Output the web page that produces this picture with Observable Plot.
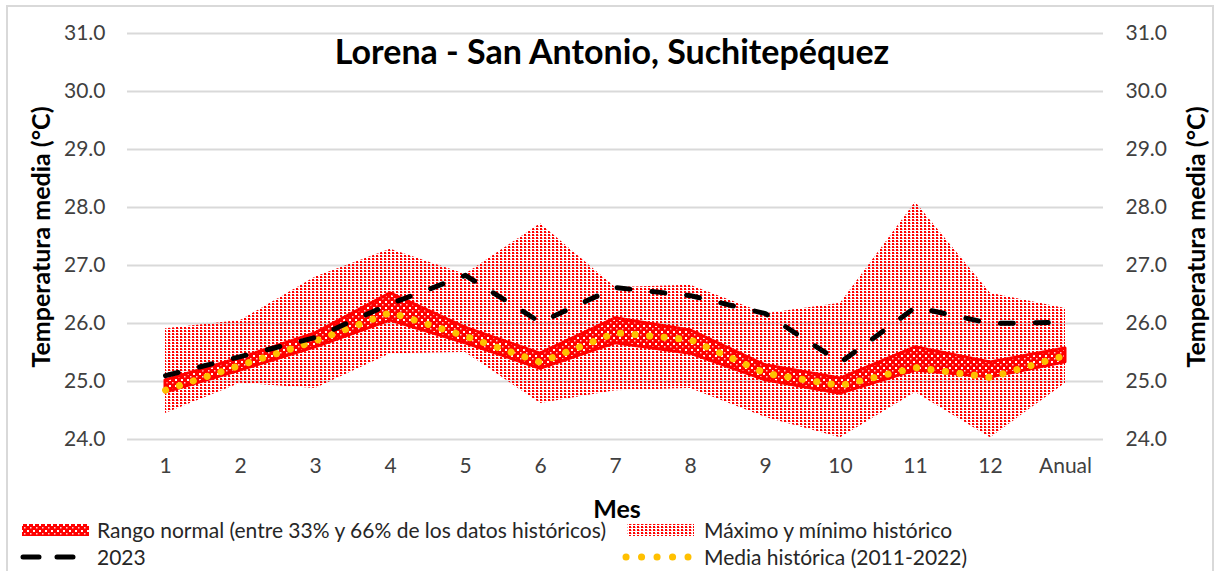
<!DOCTYPE html>
<html><head><meta charset="utf-8">
<script src="https://cdn.jsdelivr.net/npm/d3@7"></script>
<script src="https://cdn.jsdelivr.net/npm/@observablehq/plot@0.6"></script>
<style>
body{margin:0;background:#fff;font-family:Lato,"Liberation Sans",sans-serif;}
#wrap{position:relative;width:1219px;height:571px;overflow:hidden;background:#fff;}
#border{position:absolute;left:6px;top:5px;width:1208px;height:620px;border:2px solid #d9d9d9;box-sizing:border-box;}
#chart{position:absolute;left:0;top:0;}
.t{position:absolute;white-space:nowrap;color:#000;line-height:1.2;}
#title{left:0;width:1224px;text-align:center;top:31px;font-size:34px;font-weight:bold;}
.ylab{font-size:25px;font-weight:bold;transform:translate(-50%,-50%) rotate(-90deg);}
#mes{left:617px;top:493px;transform:translateX(-50%);font-size:25px;font-weight:bold;}
.leg{font-size:21px;color:#262626;}
.sw{position:absolute;}
</style></head>
<body>
<div id="wrap">
  <div id="border"></div>
  <div id="chart"></div>
  <div id="title" class="t">Lorena - San Antonio, Suchitepéquez</div>
  <div class="t ylab" style="left:40px;top:237px;">Temperatura media (°C)</div>
  <div class="t ylab" style="left:1195px;top:237px;">Temperatura media (°C)</div>
  <div id="mes" class="t">Mes</div>
  <svg class="sw" style="left:20px;top:523px" width="70" height="15"><rect x="2" y="1" width="67" height="12" fill="url(#patNorm)"/></svg>
  <div class="t leg" style="left:97px;top:517px;">Rango normal (entre 33% y 66% de los datos históricos)</div>
  <svg class="sw" style="left:625px;top:523px" width="72" height="15"><rect x="2" y="1" width="67" height="12" fill="url(#patMax)"/></svg>
  <div class="t leg" style="left:704px;top:517px;">Máximo y mínimo histórico</div>
  <svg class="sw" style="left:15px;top:550px" width="70" height="14"><line x1="8" y1="7" x2="62" y2="7" stroke="#000" stroke-width="5" stroke-linecap="round" stroke-dasharray="16,18"/></svg>
  <div class="t leg" style="left:97px;top:544px;">2023</div>
  <svg class="sw" style="left:615px;top:550px" width="80" height="14"><line x1="11" y1="7" x2="73" y2="7" stroke="#FFC000" stroke-width="7" stroke-linecap="round" stroke-dasharray="0.1,15.4"/></svg>
  <div class="t leg" style="left:704px;top:544px;">Media histórica (2011-2022)</div>
</div>
<script>
const months = ["1","2","3","4","5","6","7","8","9","10","11","12","Anual"];
const histMax = [25.91, 26.05, 26.80, 27.28, 26.85, 27.72, 26.62, 26.66, 26.17, 26.35, 28.09, 26.52, 26.26];
const histMin = [24.45, 24.97, 24.88, 25.48, 25.50, 24.62, 24.84, 24.88, 24.38, 24.03, 24.81, 24.03, 24.97];
const normLo  = [24.81, 25.19, 25.59, 26.05, 25.66, 25.22, 25.66, 25.48, 25.02, 24.79, 25.19, 25.07, 25.33];
const normHi  = [25.02, 25.40, 25.83, 26.52, 25.93, 25.48, 26.09, 25.88, 25.28, 25.05, 25.59, 25.33, 25.57];
const histMean = [24.85, 25.28, 25.70, 26.19, 25.78, 25.33, 25.84, 25.72, 25.14, 24.93, 25.24, 25.07, 25.45];
const y2023   = [25.10, 25.43, 25.76, 26.34, 26.83, 26.02, 26.62, 26.48, 26.17, 25.33, 26.28, 26.00, 26.02];
const yTicks = [24, 25, 26, 27, 28, 29, 30, 31];

const data = months.map((m, i) => ({m, max: histMax[i], min: histMin[i], lo: normLo[i], hi: normHi[i], mean: histMean[i], y23: y2023[i]}));

const fmt = d => d.toFixed(1);
const chart = Plot.plot({
  width: 1219, height: 571,
  marginTop: 33, marginBottom: 132, marginLeft: 127, marginRight: 116,
  style: {fontFamily: "Lato, 'Liberation Sans', sans-serif", fontSize: "21px", color: "#404040", background: "transparent", overflow: "visible"},
  x: {type: "point", domain: months, padding: 0.5, label: null},
  y: {domain: [24, 31], label: null},
  marks: [
    Plot.gridY(yTicks, {stroke: "#d9d9d9", strokeOpacity: 1, strokeWidth: 2}),
    Plot.areaY(data, {x: "m", y1: "min", y2: "max", fill: "url(#patMax)"}),
    Plot.areaY(data, {x: "m", y1: "lo", y2: "hi", fill: "url(#patNorm)", stroke: "#ff0000", strokeWidth: 3}),
    Plot.lineY(data, {x: "m", y: "mean", stroke: "#FFC000", strokeWidth: 7, strokeDasharray: "0.1,14.5", strokeLinecap: "round"}),
    Plot.lineY(data, {x: "m", y: "y23", stroke: "#000", strokeWidth: 5, strokeDasharray: "13,22", strokeLinecap: "round"}),
    Plot.axisY(yTicks, {anchor: "left", tickFormat: fmt, tickSize: 0, tickPadding: 22, label: null, fill: "#404040"}),
    Plot.axisY(yTicks, {anchor: "right", tickFormat: fmt, tickSize: 0, tickPadding: 22, label: null, fill: "#404040"}),
    Plot.axisX({tickSize: 0, tickPadding: 19, label: null, fill: "#404040"})
  ]
});

const svg = d3.select(chart);
const defs = svg.insert("defs", ":first-child");
const pm = defs.append("pattern").attr("id", "patMax").attr("patternUnits", "userSpaceOnUse").attr("width", 4).attr("height", 3);
pm.append("rect").attr("x", 0).attr("y", 0).attr("width", 2).attr("height", 2).attr("fill", "#ff0000");
pm.append("rect").attr("x", 2).attr("y", 1).attr("width", 1).attr("height", 1).attr("fill", "#ff9a9a");
const pn = defs.append("pattern").attr("id", "patNorm").attr("patternUnits", "userSpaceOnUse").attr("width", 6).attr("height", 6);
pn.append("rect").attr("width", 6).attr("height", 6).attr("fill", "#ff0000");
pn.append("rect").attr("x", 1).attr("y", 1).attr("width", 2).attr("height", 2).attr("fill", "#ffffff");
pn.append("rect").attr("x", 4).attr("y", 4).attr("width", 1.5).attr("height", 1.5).attr("fill", "#ffd0d0");

document.getElementById("chart").appendChild(chart);
</script>
</body></html>
